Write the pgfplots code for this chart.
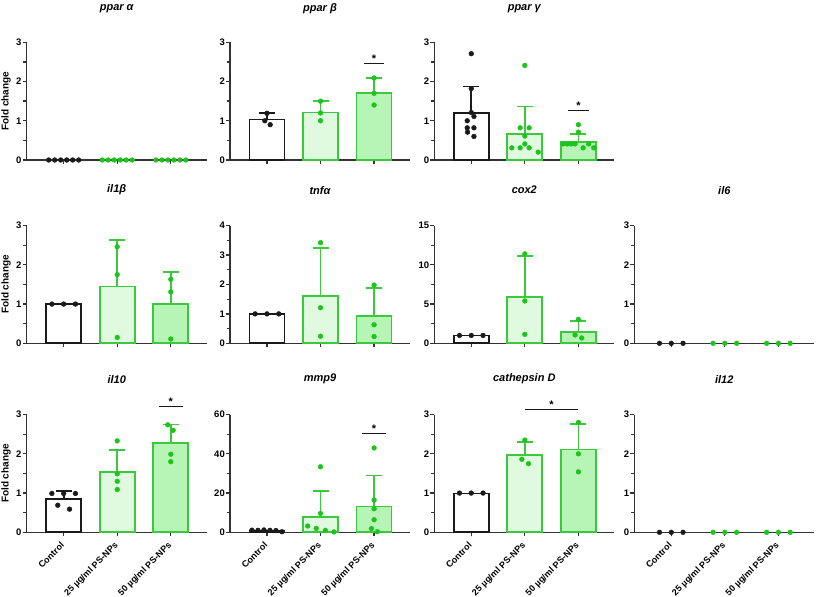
\documentclass[border=0pt]{standalone}
\usepackage{pgfplots}
\pgfplotsset{compat=1.18}
\usepackage{fontspec}
\setmainfont{Liberation Sans}
\definecolor{ctrl}{HTML}{1A1A1A}
\definecolor{gedge}{HTML}{3CC83C}
\definecolor{gfillA}{HTML}{E0FAE0}
\definecolor{gfillB}{HTML}{B6F5B6}
\definecolor{gdot}{HTML}{1CC41C}
\definecolor{axc}{HTML}{333333}
\pgfplotsset{
  panel/.style={
    scale only axis, width=180pt, height=117.7pt,
    xmin=-0.69, xmax=2.67, ymin=0,
    axis lines*=left, tick align=outside,
    axis line style={line width=1.4pt, draw=axc},
    every tick/.style={line width=1.3pt, draw=axc},
    major tick length=4pt, minor tick length=3.5pt,
    xtick={0,1,2}, xticklabels={,,},
    minor y tick num=1,
    clip=false,
    yticklabel style={font=\bfseries\fontsize{9.5}{9.5}\selectfont, inner sep=1pt},
    /pgf/number format/assume math mode=true,
  },
  row1/.style={every axis title/.style={font=\bfseries\itshape\fontsize{11}{11}\selectfont, at={(axis description cs:0.5,1)}, anchor=center, yshift=34pt}},
  row2/.style={every axis title/.style={font=\bfseries\itshape\fontsize{11}{11}\selectfont, at={(axis description cs:0.5,1)}, anchor=center, yshift=35.5pt}},
  row3/.style={every axis title/.style={font=\bfseries\itshape\fontsize{11}{11}\selectfont, at={(axis description cs:0.5,1)}, anchor=center, yshift=35.5pt},
    xticklabels={Control, 25 µg/ml PS-NPs, 50 µg/ml PS-NPs},
    xticklabel style={rotate=45, anchor=north east, xshift=-5pt, font=\bfseries\fontsize{9}{9}\selectfont, inner sep=1pt}},
  fc/.style={ylabel={Fold change}, ylabel style={font=\bfseries\fontsize{10}{10}\selectfont, at={(axis description cs:-0.114,0.5)}, anchor=center}},
  cbarne/.style={ybar, bar width=35pt, bar shift=0pt, fill=white, draw=ctrl, line width=1.7pt},
  cbar/.style={ybar, bar width=35pt, bar shift=0pt, fill=white, draw=ctrl, line width=1.7pt,
    error bars/.cd, y dir=plus, y explicit, error mark=|, error bar style={line width=1.7pt, draw=ctrl}, error mark options={line width=1.7pt, mark size=8pt, draw=ctrl}},
  abar/.style={ybar, bar width=35pt, bar shift=0pt, fill=gfillA, draw=gedge, line width=1.7pt,
    error bars/.cd, y dir=plus, y explicit, error mark=|, error bar style={line width=1.7pt, draw=gedge}, error mark options={line width=1.7pt, mark size=8pt, draw=gedge}},
  bbar/.style={ybar, bar width=35pt, bar shift=0pt, fill=gfillB, draw=gedge, line width=1.7pt,
    error bars/.cd, y dir=plus, y explicit, error mark=|, error bar style={line width=1.7pt, draw=gedge}, error mark options={line width=1.7pt, mark size=8pt, draw=gedge}},
  cdots/.style={only marks, mark=*, mark size=2.4pt, color=ctrl},
  gdots/.style={only marks, mark=*, mark size=2.4pt, color=gdot},
  sig/.style={line width=1.3pt, ctrl, no marks},
}
\newcommand{\sigstar}[2]{\node[font=\bfseries\fontsize{11}{11}\selectfont, anchor=south, inner sep=0pt, yshift=0.5pt] at (axis cs:#1,#2) {*};}
\begin{document}
\begin{tikzpicture}
\useasboundingbox (0pt,0pt) rectangle (817pt,597pt);
% ---------------- Row 1 ----------------
\begin{axis}[panel, row1, fc, at={(26.7pt,437pt)}, anchor=south west, ymax=3, ytick={0,1,2,3}, title={ppar α}]
\addplot[cdots] coordinates {(-0.28,0)(-0.168,0)(-0.056,0)(0.056,0)(0.168,0)(0.28,0)};
\addplot[gdots] coordinates {(0.72,0)(0.832,0)(0.944,0)(1.056,0)(1.168,0)(1.28,0)};
\addplot[gdots] coordinates {(1.72,0)(1.832,0)(1.944,0)(2.056,0)(2.168,0)(2.28,0)};
\end{axis}
\begin{axis}[panel, row1, at={(230pt,437pt)}, anchor=south west, ymax=3, ytick={0,1,2,3}, title={ppar β}]
\addplot[cbar] coordinates {(0,1.03) +- (0,0.16)};
\addplot[abar] coordinates {(1,1.21) +- (0,0.29)};
\addplot[bbar] coordinates {(2,1.71) +- (0,0.38)};
\addplot[cdots] coordinates {(0,1.19)(-0.04,1.0)(0.06,0.9)};
\addplot[gdots] coordinates {(1,1.5)(1,1.2)(1,1.0)};
\addplot[gdots] coordinates {(2,2.09)(2,1.7)(2,1.4)};
\addplot[sig] coordinates {(1.81,2.46)(2.19,2.46)};
\sigstar{2}{2.46}
\end{axis}
\begin{axis}[panel, row1, at={(434.3pt,437pt)}, anchor=south west, ymax=3, ytick={0,1,2,3}, title={ppar γ}]
\addplot[cbar] coordinates {(0,1.19) +- (0,0.68)};
\addplot[abar] coordinates {(1,0.67) +- (0,0.69)};
\addplot[bbar] coordinates {(2,0.46) +- (0,0.21)};
\addplot[cdots] coordinates {(0,2.71)(0,1.82)(0,1.21)(0.05,1.11)(-0.075,1.0)(0.05,0.82)(-0.075,0.82)(-0.07,0.71)(0.05,0.6)};
\addplot[gdots] coordinates {(1,2.41)(0.913,0.82)(1.081,0.82)(1,0.61)(1,0.41)(0.757,0.31)(0.913,0.31)(1.081,0.31)(1.249,0.2)};
\addplot[gdots] coordinates {(2,0.9)(2,0.71)(1.714,0.41)(1.789,0.41)(1.864,0.41)(1.938,0.41)(2.088,0.31)(2.192,0.41)(2.286,0.31)};
\addplot[sig] coordinates {(1.8,1.27)(2.2,1.27)};
\sigstar{2}{1.27}
\end{axis}
% ---------------- Row 2 ----------------
\begin{axis}[panel, row2, fc, at={(26.7pt,253.7pt)}, anchor=south west, ymax=3, ytick={0,1,2,3}, title={il1β}]
\addplot[cbarne] coordinates {(0,1.0)};
\addplot[abar] coordinates {(1,1.45) +- (0,1.18)};
\addplot[bbar] coordinates {(2,1.01) +- (0,0.80)};
\addplot[cdots] coordinates {(-0.22,1)(0,1)(0.22,1)};
\addplot[gdots] coordinates {(1,2.46)(1,1.75)(1,0.15)};
\addplot[gdots] coordinates {(2,1.63)(2,1.31)(2,0.11)};
\end{axis}
\begin{axis}[panel, row2, at={(230pt,253.7pt)}, anchor=south west, ymax=4, ytick={0,1,2,3,4}, title={tnfα}]
\addplot[cbarne] coordinates {(0,1.0)};
\addplot[abar] coordinates {(1,1.6) +- (0,1.65)};
\addplot[bbar] coordinates {(2,0.93) +- (0,0.95)};
\addplot[cdots] coordinates {(-0.22,1)(0,1)(0.22,1)};
\addplot[gdots] coordinates {(1,3.42)(1,1.21)(1,0.24)};
\addplot[gdots] coordinates {(2,1.98)(2,0.63)(2,0.23)};
\end{axis}
\begin{axis}[panel, row2, at={(434.3pt,253.7pt)}, anchor=south west, ymax=15, ytick={0,5,10,15}, title={cox2}]
\addplot[cbarne] coordinates {(0,0.98)};
\addplot[abar] coordinates {(1,5.93) +- (0,5.17)};
\addplot[bbar] coordinates {(2,1.48) +- (0,1.36)};
\addplot[cdots] coordinates {(-0.22,1)(0,1)(0.22,1)};
\addplot[gdots] coordinates {(1,11.4)(1,5.4)(1,1.14)};
\addplot[gdots] coordinates {(2,3.05)(1.938,1.06)(2.062,0.68)};
\end{axis}
\begin{axis}[panel, row2, at={(634.3pt,253.7pt)}, anchor=south west, ymax=3, ytick={0,1,2,3}, title={il6}]
\addplot[cdots] coordinates {(-0.22,0)(0,0)(0.22,0)};
\addplot[gdots] coordinates {(0.78,0)(1,0)(1.22,0)};
\addplot[gdots] coordinates {(1.78,0)(2,0)(2.22,0)};
\end{axis}
% ---------------- Row 3 ----------------
\begin{axis}[panel, row3, fc, at={(26.7pt,64.7pt)}, anchor=south west, ymax=3, ytick={0,1,2,3}, title={il10}]
\addplot[cbar] coordinates {(0,0.84) +- (0,0.21)};
\addplot[abar] coordinates {(1,1.54) +- (0,0.56)};
\addplot[bbar] coordinates {(2,2.27) +- (0,0.48)};
\addplot[cdots] coordinates {(-0.22,0.99)(0,0.99)(0.22,0.99)(-0.11,0.69)(0.11,0.59)};
\addplot[gdots] coordinates {(1,2.33)(1,1.49)(1,1.3)(1,1.09)};
\addplot[gdots] coordinates {(1.944,2.74)(2.044,2.6)(2,1.99)(2,1.8)};
\addplot[sig] coordinates {(1.78,3.21)(2.22,3.21)};
\sigstar{2}{3.21}
\end{axis}
\begin{axis}[panel, row3, at={(230pt,64.7pt)}, anchor=south west, ymax=60, ytick={0,20,40,60}, title={mmp9}]
\addplot[cbarne] coordinates {(0,0.92)};
\addplot[abar] coordinates {(1,7.9) +- (0,13.2)};
\addplot[bbar] coordinates {(2,13.2) +- (0,15.8)};
\addplot[cdots] coordinates {(-0.28,1.1)(-0.168,1.0)(-0.056,1.2)(0.056,1.0)(0.168,0.9)(0.28,0.3)};
\addplot[gdots] coordinates {(1,33.4)(1,9.6)(0.76,3.2)(0.92,2.0)(1.09,1.0)(1.25,0.2)};
\addplot[gdots] coordinates {(2,43.0)(2,16.4)(2,12.0)(2,6.4)(1.95,1.9)(2.06,0.3)};
\addplot[sig] coordinates {(1.78,50.3)(2.22,50.3)};
\sigstar{2}{50.3}
\end{axis}
\begin{axis}[panel, row3, at={(434.3pt,64.7pt)}, anchor=south west, ymax=3, ytick={0,1,2,3}, title={cathepsin D}]
\addplot[cbarne] coordinates {(0,0.99)};
\addplot[abar] coordinates {(1,1.97) +- (0,0.34)};
\addplot[bbar] coordinates {(2,2.11) +- (0,0.65)};
\addplot[cdots] coordinates {(-0.22,1)(0,1)(0.22,1)};
\addplot[gdots] coordinates {(1,2.35)(0.944,1.86)(1.068,1.75)};
\addplot[gdots] coordinates {(2,2.8)(2,2.0)(2,1.54)};
\addplot[sig] coordinates {(1,3.13)(2,3.13)};
\sigstar{1.5}{3.13}
\end{axis}
\begin{axis}[panel, row3, at={(634.3pt,64.7pt)}, anchor=south west, ymax=3, ytick={0,1,2,3}, title={il12}]
\addplot[cdots] coordinates {(-0.22,0)(0,0)(0.22,0)};
\addplot[gdots] coordinates {(0.78,0)(1,0)(1.22,0)};
\addplot[gdots] coordinates {(1.78,0)(2,0)(2.22,0)};
\end{axis}
\end{tikzpicture}
\end{document}
